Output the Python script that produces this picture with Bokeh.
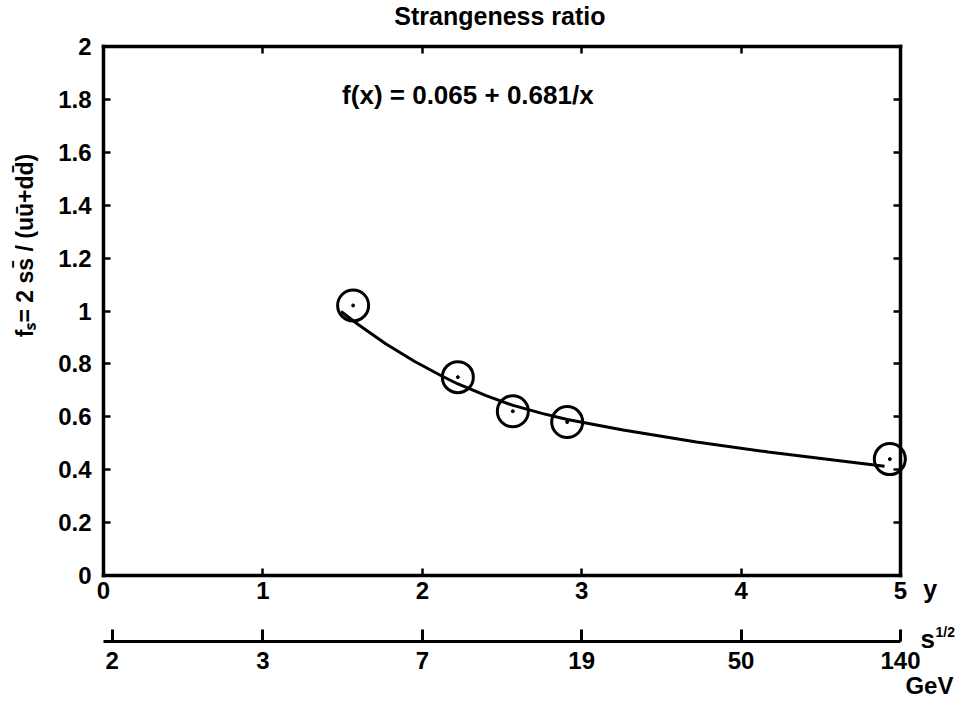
import math
from bokeh.plotting import figure
from bokeh.models import Label, LinearAxis, FixedTicker, Range1d
from bokeh.embed import file_html
from bokeh.resources import INLINE

# ---- data ----
y_ticks = [0, 0.2, 0.4, 0.6, 0.8, 1, 1.2, 1.4, 1.6, 1.8, 2]
y_tick_labels = ["0", "0.2", "0.4", "0.6", "0.8", "1", "1.2", "1.4", "1.6", "1.8", "2"]
x_ticks = [0, 1, 2, 3, 4, 5]
x_tick_labels = ["0", "1", "2", "3", "4", "5"]
s_tick_pos = [0.055, 1, 2, 3, 4, 5]
s_tick_labels = ["2", "3", "7", "19", "50", "140"]

pts_y = [1.566, 2.223, 2.568, 2.909, 4.933]
pts_f = [1.021, 0.750, 0.621, 0.580, 0.440]

fit_y = [1.49, 1.60, 1.77, 1.95, 2.11, 2.22, 2.40, 2.57, 2.75, 2.91, 3.26, 3.72, 4.17, 4.63, 4.90]
fit_f = [0.998, 0.948, 0.876, 0.810, 0.758, 0.725, 0.680, 0.643, 0.613, 0.590, 0.550, 0.505, 0.467, 0.433, 0.413]

# ---- layout ----
W, H = 956, 700
X0PX, SX = 103, 159.4         # pixel of y=0 and px per unit
Y0PX, SY = 575, 264.5         # pixel of f=0 and px per unit
S_AXIS_Y = -0.2495            # location of the energy axis

FONT = "Liberation Sans"
TS = "24px"

p = figure(width=W, height=H, title=None,
           x_range=Range1d(-X0PX / SX, (W - X0PX) / SX),
           y_range=Range1d((Y0PX - H) / SY, Y0PX / SY),
           output_backend="svg", toolbar_location=None,
           x_axis_location=None, y_axis_location=None,
           min_border_left=0, min_border_right=0, min_border_bottom=0, min_border_top=0)
p.outline_line_color = None
p.background_fill_color = "white"
p.border_fill_color = "white"
p.grid.visible = False


def make_axis(loc, ticks, labels, bounds, show_labels=True):
    ax = LinearAxis(fixed_location=loc, ticker=FixedTicker(ticks=ticks), bounds=bounds)
    ax.axis_line_color = "black"
    ax.axis_line_width = 3.5
    ax.axis_line_cap = "square"
    ax.major_tick_in = 7
    ax.major_tick_out = 0
    ax.major_tick_line_width = 2.5
    ax.minor_tick_line_color = None
    ax.major_label_text_font = FONT
    ax.major_label_text_font_style = "bold"
    ax.major_label_text_font_size = TS
    if show_labels:
        ax.major_label_overrides = dict(zip(ticks, labels))
        ax.major_label_text_color = "black"
    else:
        ax.major_label_text_color = None
    return ax


yl = make_axis(x_ticks[0], y_ticks, y_tick_labels, (y_ticks[0], y_ticks[-1]))
yl.major_label_standoff = 12
p.add_layout(yl, "left")

yr = make_axis(x_ticks[-1], y_ticks, y_tick_labels, (y_ticks[0], y_ticks[-1]), show_labels=False)
p.add_layout(yr, "right")

xb = make_axis(y_ticks[0], x_ticks, x_tick_labels, (x_ticks[0], x_ticks[-1]))
xb.major_label_standoff = 6
p.add_layout(xb, "below")

xt = make_axis(y_ticks[-1], x_ticks, x_tick_labels, (x_ticks[0], x_ticks[-1]), show_labels=False)
p.add_layout(xt, "above")

xs = make_axis(S_AXIS_Y, s_tick_pos, s_tick_labels, (x_ticks[0], x_ticks[-1]))
xs.axis_line_width = 3
xs.axis_line_cap = "butt"
xs.major_tick_in = 12
xs.major_tick_line_width = 3
xs.major_label_standoff = 11
p.add_layout(xs, "below")

# fit curve and data points
p.line(fit_y, fit_f, line_color="black", line_width=3)
p.scatter(pts_y, pts_f, marker="circle", size=31, fill_color=None, line_color="black", line_width=3)
p.scatter(pts_y, pts_f, marker="circle", size=3, fill_color="black", line_color="black")


def lab(x, y, text, size, **kw):
    l = Label(x=x, y=y, text=text, text_font=FONT, text_font_style="bold",
              text_font_size=size, text_color="black", **kw)
    p.add_layout(l)


lab(2.487, 2.117, "Strangeness ratio", "25px", text_align="center", text_baseline="alphabetic")
lab(1.497, 1.815, "f(x) = 0.065 + 0.681/x", "26px", text_baseline="alphabetic")
lab(5.142, -0.050, "y", "25px", text_baseline="alphabetic")
lab(5.125, -0.240, "s", "26px", text_baseline="alphabetic")
lab(5.220, -0.214, "1/2", "14px", text_baseline="alphabetic")
lab(5.031, -0.416, "GeV", "24px", text_baseline="alphabetic")
lab(-0.4956, 1.2476, "f\u209b= 2 ss\u0304 / (u\u016b+dd\u0304)", "23px", angle=math.pi / 2,
    text_align="center", text_baseline="middle")

open("out.html", "w").write(file_html(p, INLINE))
